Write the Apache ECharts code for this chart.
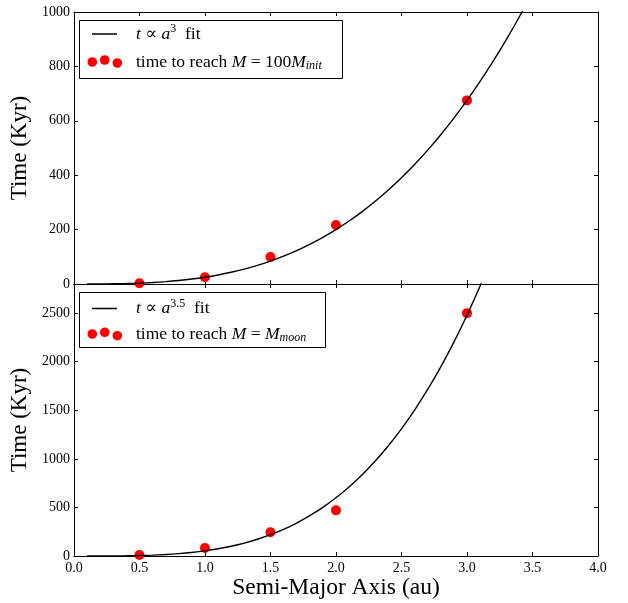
<!DOCTYPE html>
<html>
<head>
<meta charset="utf-8">
<script src="https://cdn.jsdelivr.net/npm/echarts@6/dist/echarts.min.js"></script>
<style>
html,body{margin:0;padding:0;background:#fff;}
#chart{width:628px;height:603px;}
</style>
</head>
<body>
<div id="chart"></div>
<script>
// ---- data ----
const xTicks = [0, 0.5, 1.0, 1.5, 2.0, 2.5, 3.0, 3.5, 4.0];
const semiMajor = [0.5, 1.0, 1.5, 2.0, 3.0];
const timeTop = [3, 25, 99, 217, 675];          // time to reach M = 100 M_init (Kyr)
const timeBottom = [10, 82, 245, 470, 2500];    // time to reach M = M_moon (Kyr)
const fitX = [0.1,0.2,0.3,0.4,0.5,0.6,0.7,0.8,0.9,1.0,1.1,1.2,1.3,1.4,1.5,1.6,1.7,1.8,1.9,2.0,
              2.1,2.2,2.3,2.4,2.5,2.6,2.7,2.8,2.9,3.0,3.1,3.2,3.3,3.4,3.5];
const fitTop = [0.03,0.2,0.7,1.6,3.1,5.4,8.6,12.8,18.2,25,33.3,43.2,54.9,68.6,84.4,102.4,122.8,145.8,171.5,200,
                231.5,266.2,304.2,345.6,390.6,439.4,492.1,548.8,609.7,675,744.8,819.2,898.4,982.6,1071.9];
const fitBottom = [0.02,0.19,0.78,2.15,4.7,8.9,15.2,24.3,36.7,53,74.0,100.3,132.8,172.1,219.1,274.6,339.5,414.7,501.1,599.6,
                   711.3,837.0,978.0,1135.1,1309.3,1502.1,1714.2,1946.8,2201.2,2478.6,2780.0,3106.8];
const yTopRange = [0, 1000, 200];
const yBottomRange = [0, 2800, 500];
const yTitle = 'Time (Kyr)';
const xTitle = 'Semi-Major Axis (au)';
const legendTop = ['{it|t} ∝ {it|a}{sup|3}  fit', 'time to reach {it|M} = 100{it|M}{sub|init}'];
const legendBottom = ['{it|t} ∝ {it|a}{sup|3.5}  fit', 'time to reach {it|M} = {it|M}{sub|moon}'];

const FONT = '"Liberation Serif", "DejaVu Serif", serif';
const chart = echarts.init(document.getElementById('chart'));

function pairs(xs, ys) { return ys.map((v, i) => [xs[i], v]); }

function xAxis(grid, pos, labels) {
  return {
    type: 'value', gridIndex: grid, position: pos,
    min: 0, max: 4, interval: 0.5,
    axisLine: {show: true, onZero: false, lineStyle: {color: '#000', width: 1}},
    axisTick: {show: true, inside: true, length: 4, lineStyle: {color: '#000'}},
    axisLabel: {show: labels, color: '#000', fontFamily: FONT, fontSize: 14, margin: 5,
                formatter: v => v.toFixed(1)},
    splitLine: {show: false},
    name: labels ? xTitle : '', nameLocation: 'middle', nameGap: 14,
    nameTextStyle: {fontFamily: FONT, fontSize: 23.5, color: '#000', verticalAlign: 'top'}
  };
}
function yAxis(grid, pos, labels, r) {
  return {
    type: 'value', gridIndex: grid, position: pos,
    min: r[0], max: r[1], interval: r[2],
    axisLine: {show: true, onZero: false, lineStyle: {color: '#000', width: 1}},
    axisTick: {show: true, inside: true, length: 4, lineStyle: {color: '#000'}},
    axisLabel: {show: labels, color: '#000', fontFamily: FONT, fontSize: 14, margin: 4,
                showMaxLabel: r[1] % r[2] === 0, formatter: v => String(v)},
    splitLine: {show: false},
    name: labels ? yTitle : '', nameLocation: 'middle', nameGap: 27,
    nameTextStyle: {fontFamily: FONT, fontSize: 23, color: '#000'}
  };
}

const rich = {
  it: {fontFamily: FONT, fontStyle: 'italic', fontSize: 17.5, fill: '#000'},
  sup: {fontFamily: FONT, fontSize: 12, fill: '#000', padding: [0, 0, 10, 0]},
  sub: {fontFamily: FONT, fontStyle: 'italic', fontSize: 12, fill: '#000', padding: [8, 0, 0, 0]}
};

function legendBox(box, lineY, dots, texts) {
  const els = [
    {type: 'rect', shape: {x: box[0], y: box[1], width: box[2], height: box[3]},
     style: {fill: '#fff', stroke: '#000', lineWidth: 1}, z: 100},
    {type: 'line', shape: {x1: 92, y1: lineY, x2: 117, y2: lineY},
     style: {stroke: '#000', lineWidth: 1.5}, z: 101}
  ];
  dots.forEach(d => els.push({type: 'circle', shape: {cx: d[0], cy: d[1], r: 4.8},
    style: {fill: '#ff0000'}, z: 101}));
  els.push({type: 'text', x: 136, y: lineY, z: 101,
    style: {text: texts[0], font: '17.5px ' + FONT, fill: '#000', verticalAlign: 'middle', rich: rich}});
  els.push({type: 'text', x: 136, y: dots[1][1] + 2, z: 101,
    style: {text: texts[1], font: '17.5px ' + FONT, fill: '#000', verticalAlign: 'middle', rich: rich}});
  return els;
}

const option = {
  backgroundColor: '#fff',
  animation: false,
  grid: [
    {left: 70, right: 30, top: 12, height: 272},
    {left: 70, right: 30, top: 284, height: 272}
  ],
  xAxis: [xAxis(0, 'bottom', false), xAxis(0, 'top', false), xAxis(1, 'bottom', true), xAxis(1, 'top', false)],
  yAxis: [yAxis(0, 'left', true, yTopRange), yAxis(0, 'right', false, yTopRange),
          yAxis(1, 'left', true, yBottomRange), yAxis(1, 'right', false, yBottomRange)],
  series: [
    {name: 't ∝ a^3 fit', type: 'line', xAxisIndex: 0, yAxisIndex: 0, data: pairs(fitX, fitTop),
     smooth: 0.3, showSymbol: false, symbol: 'none', clip: true,
     lineStyle: {color: '#000', width: 1.4}},
    {name: 'time to reach M = 100 M_init', type: 'scatter', xAxisIndex: 0, yAxisIndex: 0,
     data: pairs(semiMajor, timeTop), symbolSize: 10, itemStyle: {color: '#ff0000', opacity: 1}},
    {name: 't ∝ a^3.5 fit', type: 'line', xAxisIndex: 2, yAxisIndex: 2, data: pairs(fitX, fitBottom),
     smooth: 0.3, showSymbol: false, symbol: 'none', clip: true,
     lineStyle: {color: '#000', width: 1.4}},
    {name: 'time to reach M = M_moon', type: 'scatter', xAxisIndex: 2, yAxisIndex: 2,
     data: pairs(semiMajor, timeBottom), symbolSize: 10, itemStyle: {color: '#ff0000', opacity: 1}}
  ],
  graphic: [
    ...legendBox([79.5, 20.5, 263, 58], 34, [[92.3, 62], [104.7, 60], [117.3, 63]], legendTop),
    ...legendBox([79.5, 292.5, 246, 55], 308.5, [[92.3, 334], [104.7, 332.3], [117.3, 335.7]], legendBottom)
  ]
};
chart.setOption(option);
</script>
</body>
</html>
